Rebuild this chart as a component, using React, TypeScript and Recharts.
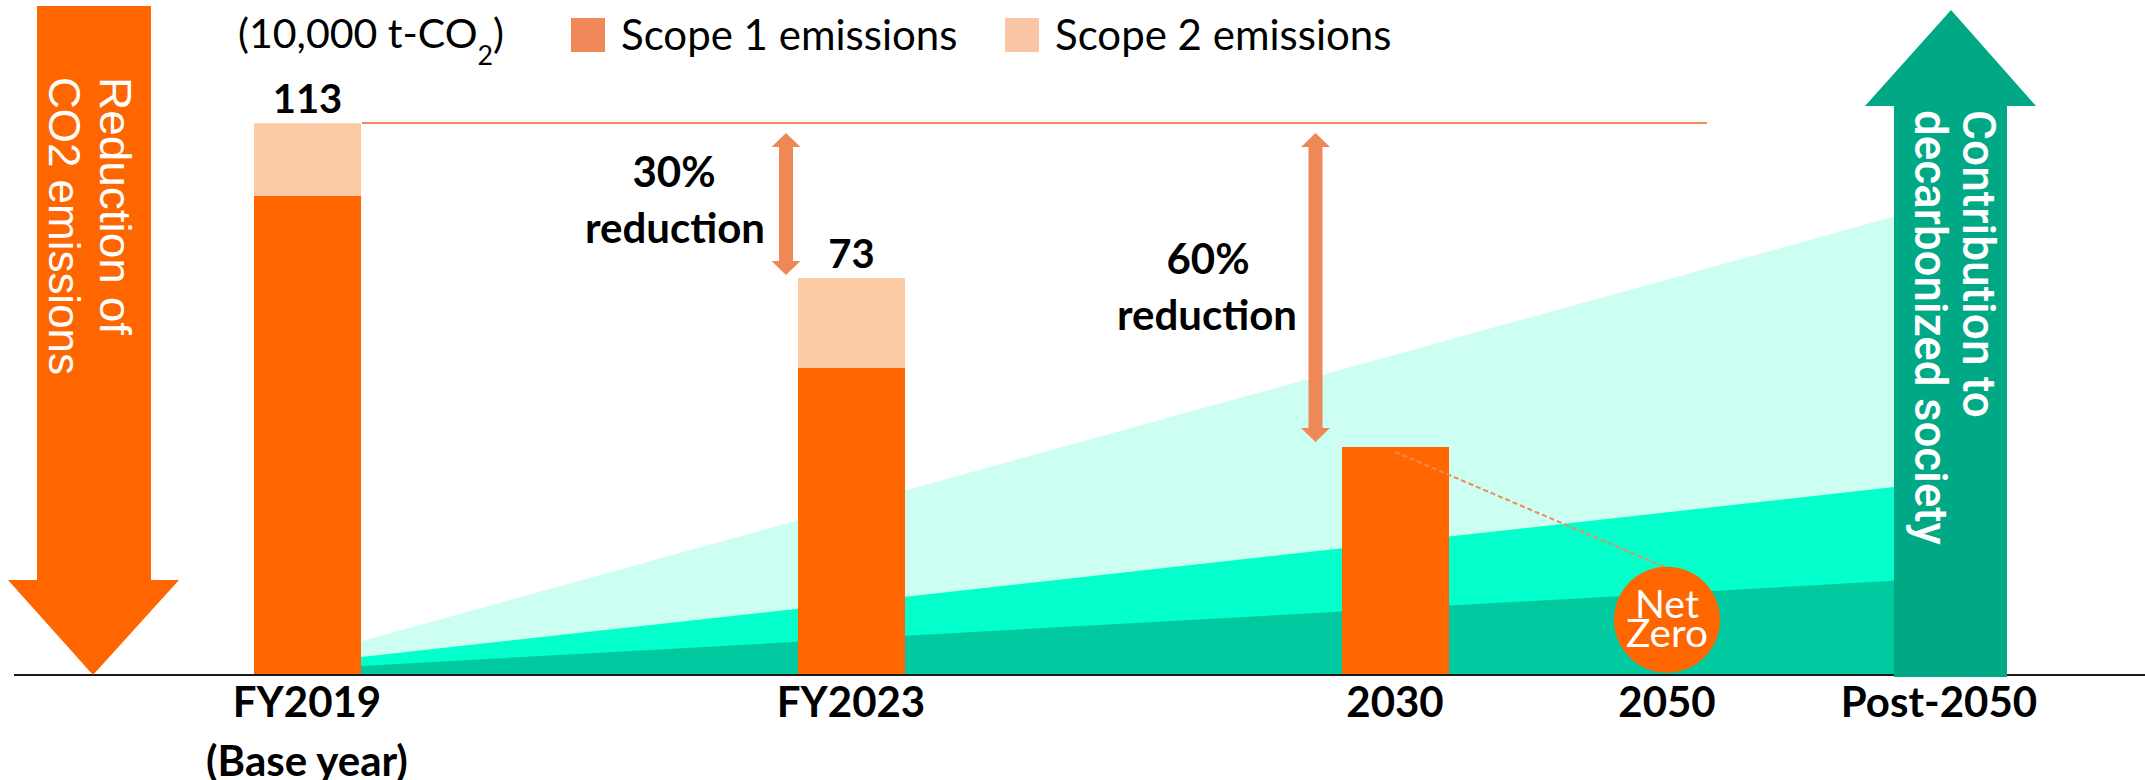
import React from 'react';
import {
  ComposedChart,
  Bar,
  Area,
  Line,
  XAxis,
  YAxis,
  Legend,
  LabelList,
  ReferenceDot,
} from 'recharts';

// timeline slots; the blank ones only keep the spacing between years
const periods = ['FY2019', ' ', 'FY2023', '  ', '2030', '2050', 'Post-2050'];
const periodNotes = ['(Base year)', '', '', '', '', '', ''];

// 10,000 t-CO2 (bar heights, labels as printed)
const scope1 = [98.1, null, 62.9, null, 46.7, null, null];
const scope2 = [14.9, null, 18.4, null, 0, null, null];
const totals = [113, null, 73, null, 45, null, null];

// contribution wedges: straight bands, only the two ends are known
const wedgeLight = [3.85, null, null, null, null, null, 96.4];
const wedgeMid = [2.44, null, null, null, null, null, 39.5];
const wedgeDark = [1.22, null, null, null, null, null, 19.8];

// dashed path from 2030 down to net zero
const pathToZero = [null, null, null, null, 45.7, 21.9, null];
const netZeroAt = '2050';
const netZeroLevel = 11.3;

const seriesNames = ['Scope 1 emissions', 'Scope 2 emissions'];
const legendSwatches = ['#F0885A', '#F9C5A4'];

const data = periods.map((period, i) => ({
  period,
  scope1: scope1[i],
  scope2: scope2[i],
  total: totals[i],
  light: wedgeLight[i],
  mid: wedgeMid[i],
  dark: wedgeDark[i],
  path: pathToZero[i],
}));

const LATO = 'Lato, "Open Sans", sans-serif';

function renderTick(props: any) {
  const { x, y, payload } = props;
  const i = periods.indexOf(payload.value);
  if (!payload.value.trim()) return <g />;
  return (
    <g>
      <text x={x} y={y + 42} textAnchor="middle" fontFamily={LATO} fontWeight={700} fontSize={42} fill="#000">
        {payload.value}
      </text>
      {periodNotes[i] ? (
        <text x={x} y={y + 101} textAnchor="middle" fontFamily={LATO} fontWeight={700} fontSize={42} fill="#000">
          {periodNotes[i]}
        </text>
      ) : null}
    </g>
  );
}

function renderTotal(props: any) {
  const { value } = props;
  if (value == null) return null;
  const vb = props.viewBox ?? props;
  const x = props.x ?? vb.x;
  const y = props.y ?? vb.y;
  const width = props.width ?? vb.width;
  return (
    <text x={x + width / 2} y={y - 10} textAnchor="middle" fontFamily={LATO} fontWeight={700} fontSize={40} fill="#000">
      {value}
    </text>
  );
}

function renderNetZero(props: any) {
  const { cx, cy } = props;
  return (
    <g>
      <circle cx={cx} cy={cy} r={53} fill="#FF6600" />
      <text x={cx} y={cy - 2} textAnchor="middle" fontFamily={LATO} fontSize={39} fill="#fff" textLength={64} lengthAdjust="spacingAndGlyphs">
        Net
      </text>
      <text x={cx} y={cy + 27} textAnchor="middle" fontFamily={LATO} fontSize={39} fill="#fff" textLength={82} lengthAdjust="spacingAndGlyphs">
        Zero
      </text>
    </g>
  );
}

function renderLegend() {
  return (
    <svg width={1450} height={70} style={{ display: 'block' }}>
      <text x={238} y={48} fontFamily={LATO} fontSize={40} fill="#000" textLength={266} lengthAdjust="spacingAndGlyphs">
        (10,000 t-CO<tspan dy={17} fontSize={26}>2</tspan>
        <tspan dy={-17}>)</tspan>
      </text>
      {seriesNames.map((name, i) => (
        <g key={name}>
          <rect x={571 + i * 434} y={18} width={34} height={34} fill={legendSwatches[i]} />
          <text x={621 + i * 434} y={50} fontFamily={LATO} fontSize={42} fill="#000">
            {name}
          </text>
        </g>
      ))}
    </svg>
  );
}

function doubleArrow(cx: number, top: number, bottom: number) {
  const h = 14;
  const hw = 14.5;
  const sw = 7;
  const pts = [
    [cx, top], [cx + hw, top + h], [cx + sw, top + h], [cx + sw, bottom - h], [cx + hw, bottom - h],
    [cx, bottom], [cx - hw, bottom - h], [cx - sw, bottom - h], [cx - sw, top + h], [cx - hw, top + h],
  ];
  return <polygon points={pts.map((p) => p.join(',')).join(' ')} fill="#EF8857" />;
}

function Overlay() {
  const bold = { fontFamily: LATO, fontWeight: 700, fontSize: 42, fill: '#000', textAnchor: 'middle' as const };
  return (
    <svg width={2145} height={780} style={{ position: 'absolute', left: 0, top: 0, pointerEvents: 'none' }}>
      {/* base-year level */}
      <line x1={362} y1={123} x2={1707} y2={123} stroke="#F0885A" strokeWidth={2} />

      {/* left arrow */}
      <polygon points="37,6 151,6 151,580 179,580 93,675 8,580 37,580" fill="#FF6600" />
      <text transform="translate(100,77) rotate(90)" fontFamily='"Liberation Sans", Arial, sans-serif' fontSize={45} fill="#fff" textLength={258} lengthAdjust="spacingAndGlyphs">
        Reduction of
      </text>
      <text transform="translate(49,77) rotate(90)" fontFamily='"Liberation Sans", Arial, sans-serif' fontSize={45} fill="#fff" textLength={298} lengthAdjust="spacingAndGlyphs">
        CO2 emissions
      </text>

      {/* right arrow */}
      <polygon points="1894,677 1894,106 1865,106 1951,10 2036,106 2007,106 2007,677" fill="#00A886" />
      <text transform="translate(1963,110) rotate(90)" fontFamily="Roboto, sans-serif" fontWeight={500} fontSize={46} fill="#fff" textLength={308} lengthAdjust="spacingAndGlyphs">
        Contribution to
      </text>
      <text transform="translate(1915,110) rotate(90)" fontFamily="Roboto, sans-serif" fontWeight={500} fontSize={46} fill="#fff" textLength={435} lengthAdjust="spacingAndGlyphs">
        decarbonized society
      </text>

      {/* reduction arrows */}
      {doubleArrow(786, 133, 275)}
      {doubleArrow(1315.5, 133, 442)}
      <text x={674} y={187} {...bold}>30%</text>
      <text x={675} y={243} {...bold}>reduction</text>
      <text x={1208} y={274} {...bold}>60%</text>
      <text x={1207} y={330} {...bold}>reduction</text>
    </svg>
  );
}

export default function App() {
  return (
    <div style={{ position: 'absolute', left: 0, top: 0, width: 2145, height: 780, background: '#fff' }}>
      <ComposedChart width={2145} height={780} data={data} margin={{ top: 89, right: 0, bottom: 0, left: 14 }}>
        <XAxis
          dataKey="period"
          height={105}
          padding={{ left: 157, right: 70 }}
          axisLine={{ stroke: '#1a1a1a', strokeWidth: 2 }}
          tickLine={false}
          tickSize={0}
          tickMargin={0}
          interval={0}
          tick={renderTick}
        />
        <YAxis hide domain={[0, 120]} />
        <Legend
          layout="horizontal"
          verticalAlign="middle"
          align="center"
          wrapperStyle={{ top: 0, left: 0, width: 1450 }}
          content={renderLegend}
        />
        <Area dataKey="light" type="linear" fill="#CCFEF1" fillOpacity={1} stroke="none" connectNulls legendType="none" isAnimationActive={false} />
        <Area dataKey="mid" type="linear" fill="#03FFCA" fillOpacity={1} stroke="none" connectNulls legendType="none" isAnimationActive={false} />
        <Area dataKey="dark" type="linear" fill="#00C9A0" fillOpacity={1} stroke="none" connectNulls legendType="none" isAnimationActive={false} />
        <Bar dataKey="scope1" name={seriesNames[0]} stackId="co2" fill="#FF6600" barSize={107} isAnimationActive={false} />
        <Bar dataKey="scope2" name={seriesNames[1]} stackId="co2" fill="#FDCAA6" barSize={107} isAnimationActive={false}>
          <LabelList dataKey="total" content={renderTotal} />
        </Bar>
        <Line
          dataKey="path"
          type="linear"
          stroke="#F0885A"
          strokeWidth={2}
          strokeDasharray="5 3"
          dot={false}
          activeDot={false}
          connectNulls
          legendType="none"
          isAnimationActive={false}
        />
        <ReferenceDot x={netZeroAt} y={netZeroLevel} r={53} shape={renderNetZero} ifOverflow="visible" />
      </ComposedChart>
      <Overlay />
    </div>
  );
}
